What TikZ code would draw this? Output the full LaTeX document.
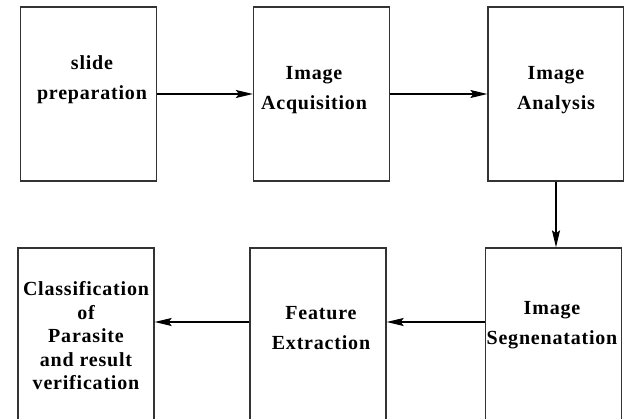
\documentclass[tikz,border=0pt]{standalone}
\usepackage{fontspec}
\setmainfont{Liberation Serif}[BoldFeatures={LetterSpace=4}]
\usetikzlibrary{arrows.meta}
\tikzset{
  stage/.style={draw=black!80, line width=1.3pt, minimum width=136pt, minimum height=174pt, inner sep=0pt},
  lowstage/.style={stage, minimum height=192pt},
  stagetext/.style={font=\bfseries\fontsize{20}{30}\selectfont, align=center, inner sep=0pt},
  flow/.style={line width=1.1pt, -{Stealth[length=17pt, width=8pt, inset=3pt]}}
}
\begin{document}
\begin{tikzpicture}[x=1pt, y=-1pt]
  \useasboundingbox (0, 0) rectangle (624, 419);
  \clip (0, 0) rectangle (624, 419);
  % top row
  \node [stage] (slide) at (88.5, 94) {};
  \node [stage] (acq) at (321.5, 94) {};
  \node [stage] (ana) at (556, 94) {};
  % bottom row, runs off the page
  \node [lowstage] (cls) at (86, 344) {};
  \node [lowstage] (feat) at (318, 344) {};
  \node [lowstage] (seg) at (553.5, 344) {};
  % texts
  \node [stagetext] (slideT) at (92, 80) {slide\\preparation};
  \node [stagetext] (acqT) at (314, 90) {Image\\Acquisition};
  \node [stagetext] (anaT) at (556, 90) {Image\\Analysis};
  \node [stagetext] (segT) at (552, 325) {Image\\Segnenatation};
  \node [stagetext] (featT) at (321, 328) {Feature\\Extraction};
  \node [stagetext, font=\bfseries\fontsize{20}{23.5}\selectfont] (clsT) at (86, 336)
    {Classification\\of\\Parasite\\and result\\verification};
  % arrows
  \draw [flow] (slide.east) -- (acq.west);
  \draw [flow] (acq.east) -- (ana.west);
  \draw [flow] (ana.south) -- (ana.south |- seg.north);
  \draw [flow] ([yshift=22pt]seg.west) -- ([yshift=22pt]feat.east);
  \draw [flow] ([yshift=22pt]feat.west) -- ([yshift=22pt]cls.east);
\end{tikzpicture}
\end{document}
